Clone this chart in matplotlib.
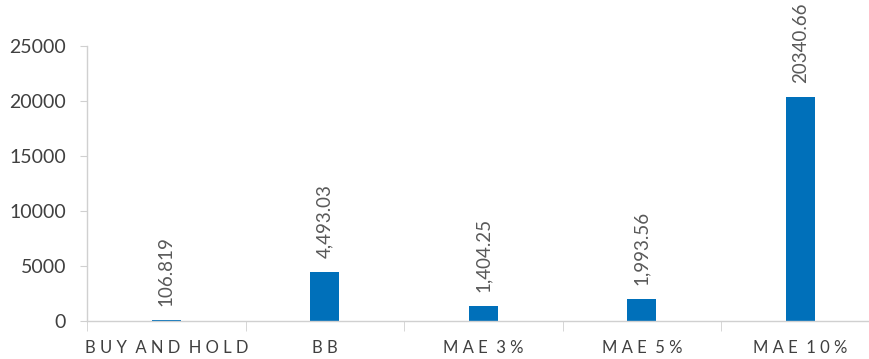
import matplotlib.pyplot as plt
import numpy as np

plt.rcParams['font.family'] = ['Lato', 'DejaVu Sans']

strategies = ["B U Y  A N D  H O L D", "B B", "M A E  3 %", "M A E  5 %", "M A E  1 0 %"]
values = [106.819, 4493.03, 1404.25, 1993.56, 20340.66]
value_labels = ["106.819", "4,493.03", "1,404.25", "1,993.56", "20340.66"]
yticks = [0, 5000, 10000, 15000, 20000, 25000]

bar_color = "#0070BA"
axis_color = "#D0D0D0"
text_color = "#404040"

fig = plt.figure(figsize=(8.7, 3.59), dpi=100)
ax = fig.add_axes([0.1, 0.1058, 0.9, 0.766])

x = np.arange(len(strategies))
bars = ax.bar(x, values, width=0.185, color=bar_color, zorder=1)

for bar, lbl in zip(bars, value_labels):
    ax.annotate(lbl, (bar.get_x() + bar.get_width() / 2, bar.get_height()),
                xytext=(0, 10), textcoords="offset points",
                rotation=90, ha="center", va="bottom",
                fontsize=13.5, color="#595959")

ax.set_ylim(0, 25000)
ax.set_xlim(-0.5, 4.44)
ax.set_yticks(yticks)
ax.set_yticklabels([str(v) for v in yticks])

ax.set_xticks(x)
ax.set_xticklabels(strategies)
ax.set_xticks(np.arange(-0.5, 4.0, 1.0), minor=True)

for side in ("top", "right"):
    ax.spines[side].set_visible(False)
for side in ("left", "bottom"):
    ax.spines[side].set_color(axis_color)
    ax.spines[side].set_linewidth(1.0)
    ax.spines[side].set_zorder(3)

ax.tick_params(axis="y", length=5, color=axis_color, pad=10,
               labelsize=14, labelcolor=text_color)
ax.tick_params(axis="x", which="major", length=0, pad=14,
               labelsize=12, labelcolor=text_color)
ax.tick_params(axis="x", which="minor", length=7, color=axis_color)

fig.savefig("out.png", dpi=100)
